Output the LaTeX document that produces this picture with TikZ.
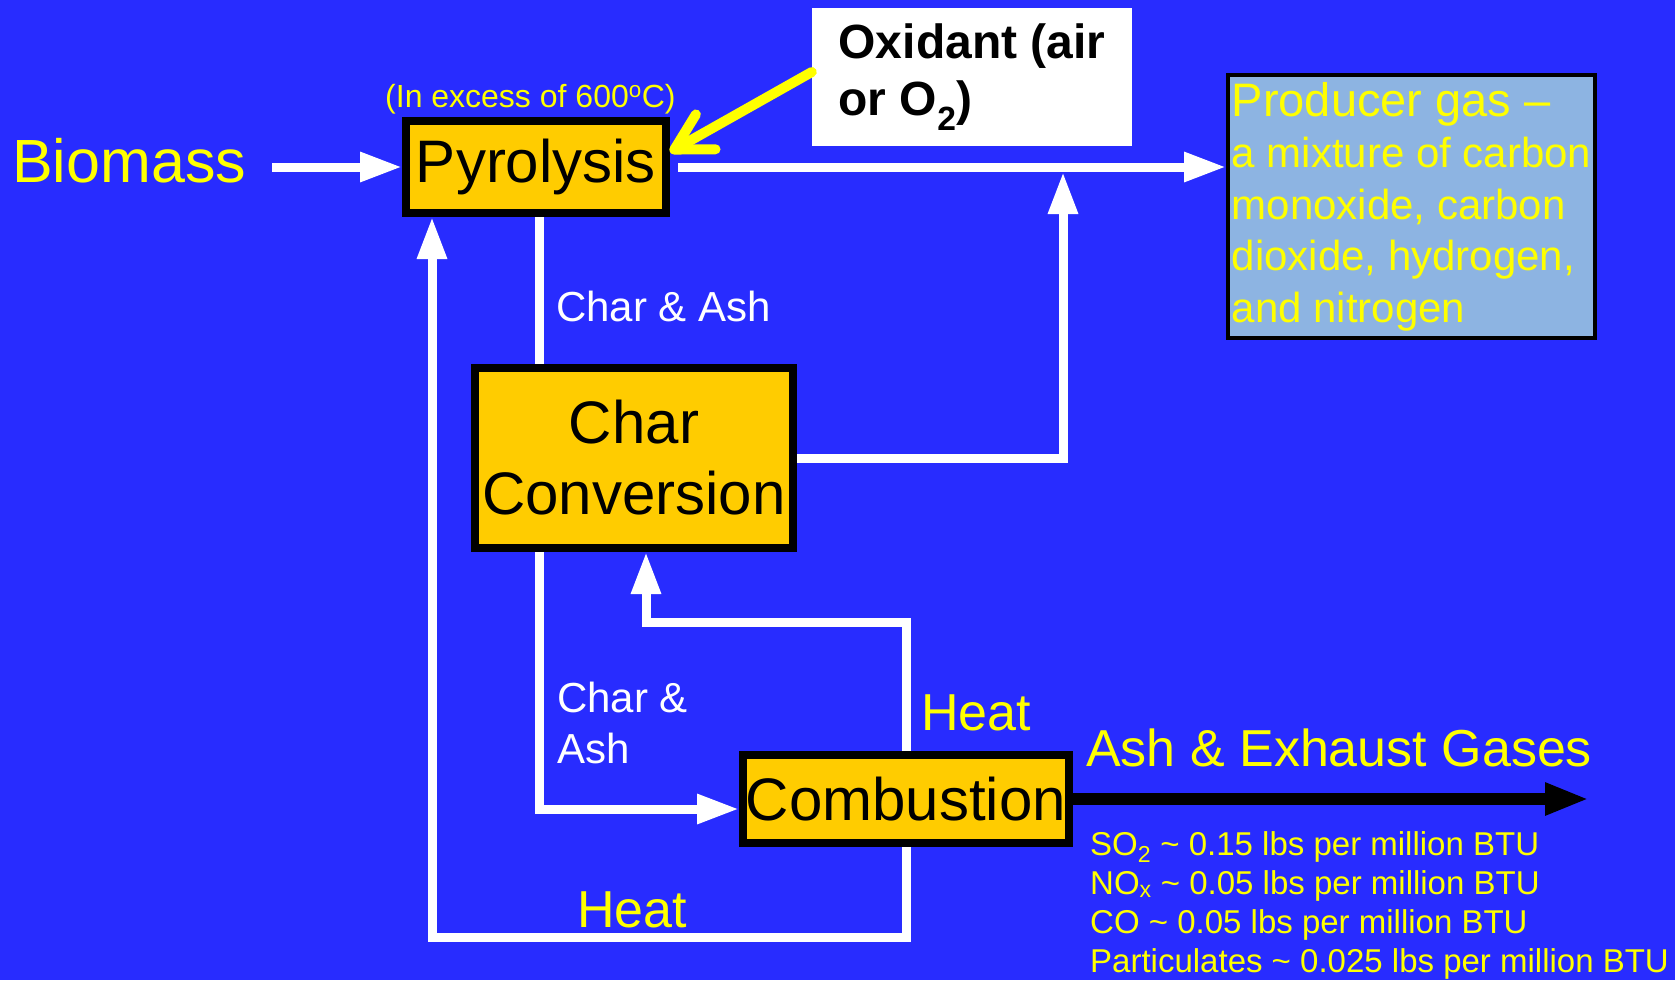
\documentclass[tikz,border=0pt]{standalone}
\usepackage{fontspec}
\setmainfont{Liberation Sans}
\usetikzlibrary{arrows.meta,positioning}
\definecolor{slideblue}{RGB}{40,44,255}
\definecolor{boxgold}{RGB}{255,204,0}
\definecolor{gasblue}{RGB}{141,180,226}
\definecolor{labelyellow}{RGB}{255,255,0}
\newcommand{\fsz}[2]{\fontsize{#1}{#2}\selectfont}
\tikzset{
  procbox/.style={rectangle,draw=black,line width=8pt,fill=boxgold,inner sep=0pt,align=center,font=\fsz{60}{71}},
  flow/.style={draw=white,line width=9pt,-{Triangle[length=42pt,width=28pt]}},
  flowline/.style={draw=white,line width=9pt},
  exhaust/.style={draw=black,line width=12pt,-{Triangle[length=44pt,width=30pt]}},
  oxarrow/.style={draw=labelyellow,line width=10pt,line cap=round,-{Straight Barb[length=36pt,width=40pt,round]}},
  ylabel/.style={text=labelyellow,inner sep=0pt},
  wlabel/.style={text=white,inner sep=0pt}
}

\begin{document}
\begin{tikzpicture}[x=1pt,y=-1pt]
    \fill[slideblue] (0,0) rectangle (1675,980);
    \useasboundingbox (0,0) rectangle (1675,980);

    % process boxes
    \node[procbox,minimum width=260pt,minimum height=92pt] (pyro) at (536,167) {Pyrolysis};
    \node[procbox,minimum width=318pt,minimum height=180pt] (charconv) at (634,458) {Char\\Conversion};
    \node[procbox,minimum width=326pt,minimum height=88pt] (comb) at (906,799) {Combustion};
    \node[rectangle,fill=white,minimum width=320pt,minimum height=137.5pt,inner sep=0pt,
          align=left,font=\bfseries\fsz{48}{57}] (oxid) at (972,77) {Oxidant (air\\or O\textsubscript{2})};
    \node[rectangle,draw=black,line width=4pt,fill=gasblue,minimum width=367pt,minimum height=263pt,
          inner sep=0pt,align=left,text=labelyellow,font=\fsz{42}{51.5}] (gas) at (1411.5,206.5)
          {{\fsz{47}{51.5}Producer gas –}\\a mixture of carbon\\monoxide, carbon\\dioxide, hydrogen,\\and nitrogen};

    % labels
    \node[ylabel,anchor=base west,font=\fsz{61}{72}] (biomass) at (12,182) {Biomass};
    \node[ylabel,anchor=base west,font=\fsz{32}{38}] (excess) at (385,107) {(In excess of 600\textsuperscript{o}C)};
    \node[wlabel,anchor=base west,font=\fsz{42}{51}] (ash1) at (556,321) {Char \& Ash};
    \node[wlabel,anchor=base west,align=left,font=\fsz{42}{51}] (ash2) at (557,763) {Char \&\\Ash};
    \node[ylabel,anchor=base west,font=\fsz{52}{60}] (heat1) at (921,730) {Heat};
    \node[ylabel,anchor=base west,font=\fsz{52}{60}] (heat2) at (577,927) {Heat};
    \node[ylabel,anchor=base west,font=\fsz{52}{60}] (exgas) at (1086,766) {Ash \& Exhaust Gases};
    \node[ylabel,anchor=base west,align=left,font=\fsz{33}{39}] (emis) at (1090,972)
          {SO\textsubscript{2} \textasciitilde{} 0.15 lbs per million BTU\\
           NO\textsubscript{x} \textasciitilde{} 0.05 lbs per million BTU\\
           CO \textasciitilde{} 0.05 lbs per million BTU\\
           Particulates \textasciitilde{} 0.025 lbs per million BTU};

    % connectors
    \coordinate (gasjoin) at (1063,172);
    \draw[flow,shorten <=26pt] (biomass.east |- pyro.west) -- (pyro.west);
    \draw[flow,shorten <=8pt] (pyro.east) -- (pyro.east -| gas.west);
    \draw[oxarrow] ([yshift=5pt]oxid.west) -- ([yshift=15pt]pyro.east);
    \draw[flowline] ([xshift=3.5pt]pyro.south) -- ([xshift=3.5pt]pyro.south |- charconv.north);
    \draw[flow] ([xshift=3.5pt]pyro.south |- charconv.south) |- ([yshift=-10pt]comb.west);
    \draw[flow] (comb.north) -- ++(0,-129) -| ([xshift=12pt]charconv.south);
    \draw[flow] (comb.south) -- ++(0,90) -| ([xshift=-104pt]pyro.south);
    \draw[flow] (charconv.east) -| (gasjoin);
    \draw[exhaust] (comb.east) -- ++(516,0);
\end{tikzpicture}
\end{document}
